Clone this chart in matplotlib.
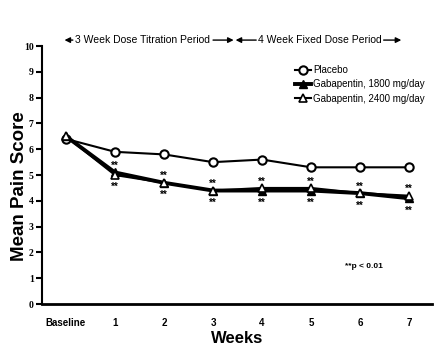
import matplotlib.pyplot as plt

weeks = [0, 1, 2, 3, 4, 5, 6, 7]
week_labels = ["Baseline", "1", "2", "3", "4", "5", "6", "7"]
placebo = [6.4, 5.9, 5.8, 5.5, 5.6, 5.3, 5.3, 5.3]
gaba1800 = [6.5, 5.1, 4.7, 4.4, 4.4, 4.4, 4.3, 4.1]
gaba2400 = [6.5, 5.0, 4.7, 4.4, 4.5, 4.5, 4.3, 4.2]

sans = ["Liberation Sans", "DejaVu Sans"]

fig = plt.figure(figsize=(4.37, 3.54), dpi=100)
ax = fig.add_axes([0.096, 0.141, 0.893, 0.729])

ax.plot(weeks, placebo, color="black", lw=1.5, marker="o", ms=6,
        mfc="white", mec="black", mew=1.5, label="Placebo", zorder=3)
ax.plot(weeks, gaba1800, color="black", lw=2.8, marker="^", ms=6,
        mfc="black", mec="black", label="Gabapentin, 1800 mg/day", zorder=3)
ax.plot(weeks, gaba2400, color="black", lw=1.5, marker="^", ms=6,
        mfc="white", mec="black", mew=1.2, label="Gabapentin, 2400 mg/day", zorder=4)

# significance stars above and below the gabapentin points
for w, a, b in zip(weeks[1:], gaba2400[1:], gaba1800[1:]):
    ax.annotate("**", (w, max(a, b)), xytext=(0, 2.5), textcoords="offset points",
                ha="center", va="baseline", fontsize=7, fontweight="bold", family=sans)
    ax.annotate("**", (w, min(a, b)), xytext=(0, -11), textcoords="offset points",
                ha="center", va="baseline", fontsize=7, fontweight="bold", family=sans)

ax.text(5.69, 1.4, "**p < 0.01", fontsize=6, fontweight="bold", family=sans)

ax.set_xlim(-0.49, 7.47)
ax.set_ylim(0, 10)
ax.set_yticks(range(0, 11))
ax.set_xticks(weeks)
ax.set_xticklabels(week_labels, fontsize=7, fontweight="bold", family=sans)
for lab in ax.get_yticklabels():
    lab.set_family("Liberation Serif")
    lab.set_fontweight("bold")
    lab.set_fontsize(7)
ax.tick_params(axis="x", length=0, pad=10)
ax.tick_params(axis="y", length=4, width=1.5, direction="out", pad=2)
ax.spines["top"].set_visible(False)
ax.spines["right"].set_visible(False)
ax.spines["left"].set_linewidth(1.5)
ax.spines["bottom"].set_linewidth(2)

ax.set_xlabel("Weeks", fontsize=12, fontweight="bold", family=sans, labelpad=2)
fig.text(20 / 437, 0.475, "Mean Pain Score", rotation=90, ha="center", va="center",
         fontsize=13.5, fontweight="bold", family=sans)

# period headers with arrows
yh = 10.23
arr = dict(arrowstyle="-|>", color="black", lw=1, mutation_scale=8, shrinkA=0, shrinkB=0)
ax.annotate("", xy=(-0.03, yh), xytext=(0.14, yh), arrowprops=arr, annotation_clip=False)
ax.text(0.18, yh, "3 Week Dose Titration Period", fontsize=7.5, family=sans,
        va="center", ha="left", clip_on=False)
ax.annotate("", xy=(3.42, yh), xytext=(3.0, yh), arrowprops=arr, annotation_clip=False)
ax.annotate("", xy=(3.46, yh), xytext=(3.88, yh), arrowprops=arr, annotation_clip=False)
ax.text(3.92, yh, "4 Week Fixed Dose Period", fontsize=7.5, family=sans,
        va="center", ha="left", clip_on=False)
ax.annotate("", xy=(6.84, yh), xytext=(6.48, yh), arrowprops=arr, annotation_clip=False)

ax.legend(loc="upper left", bbox_to_anchor=(0.665, 0.83), bbox_transform=fig.transFigure,
          frameon=False, handlelength=1.6, handletextpad=0.2, labelspacing=0.45,
          borderpad=0, prop={"family": sans, "size": 7})

fig.savefig("out.png", dpi=100)
